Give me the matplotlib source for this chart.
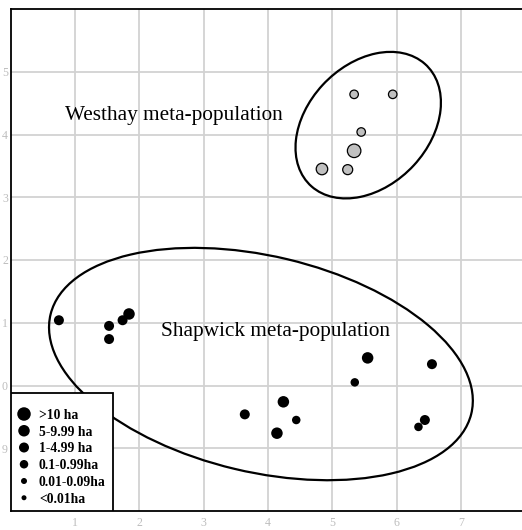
import matplotlib
matplotlib.use("Agg")
import matplotlib.pyplot as plt
from matplotlib.patches import Ellipse, Rectangle

# Patch-size classes (habitat area)
size_classes = [">10 ha", "5-9.99 ha", "1-4.99 ha", "0.1-0.99ha", "0.01-0.09ha", "<0.01ha"]

# Shapwick sites: ordination scores and size class index
shap_x = [0.75, 1.53, 1.53, 1.74, 1.84, 3.64, 4.24, 4.44, 4.14, 5.55, 6.55, 5.35, 6.44, 6.34]
shap_y = [1.04, 0.95, 0.74, 1.04, 1.14, -0.46, -0.26, -0.55, -0.76, 0.44, 0.34, 0.05, -0.55, -0.66]
shap_cls = [2, 2, 2, 2, 1, 2, 1, 3, 1, 1, 2, 3, 2, 3]

# Westhay sites
west_x = [5.34, 5.94, 5.45, 5.34, 4.84, 5.24]
west_y = [4.64, 4.64, 4.04, 3.74, 3.45, 3.44]
west_cls = [3, 3, 3, 0, 1, 2]

x_ticks = [1, 2, 3, 4, 5, 6, 7]
y_ticks = [-1, 0, 1, 2, 3, 4, 5]
y_tick_labels = ["9", "0", "1", "2", "3", "4", "5"]

# marker diameters (pixels) per size class
class_diam_px = [13.5, 11.5, 10.0, 8.5, 6.0, 5.0]
DPI = 100
W_PX, H_PX = 522, 530
px2pt = 72.0 / DPI


def area(cls_list):
    return [(class_diam_px[c] * px2pt) ** 2 for c in cls_list]


fig = plt.figure(figsize=(W_PX / DPI, H_PX / DPI), dpi=DPI)
ax_left_px, ax_top_px, ax_bottom_px = 10.67, 9.0, 511.0
ax_w_px = W_PX - ax_left_px
ax_h_px = ax_bottom_px - ax_top_px
ax = fig.add_axes([ax_left_px / W_PX, (H_PX - ax_bottom_px) / H_PX,
                   ax_w_px / W_PX, ax_h_px / H_PX])
ax.set_xlim(0, 7.95)
ax.set_ylim(-2, 6)

ax.set_xticks(x_ticks)
ax.set_xticklabels([str(v) for v in x_ticks])
ax.set_yticks(y_ticks)
ax.set_yticklabels(y_tick_labels)
ax.tick_params(length=0, colors="#bdbdbd", labelsize=8.6)
ax.tick_params(axis="x", pad=4)
ax.tick_params(axis="y", pad=2)
for lab in ax.get_xticklabels() + ax.get_yticklabels():
    lab.set_family("Liberation Serif")

ax.grid(True, color="#d2d2d2", linewidth=1.3)
ax.set_axisbelow(True)
for side in ["left", "top", "bottom"]:
    ax.spines[side].set_color("black")
    ax.spines[side].set_linewidth(1.3)
ax.spines["right"].set_visible(False)

# group envelopes
ax.add_patch(Ellipse((5.559, 4.149), 2.63, 1.91, angle=48, fill=False,
                     edgecolor="black", linewidth=1.6, zorder=3))
ax.add_patch(Ellipse((3.891, 0.342), 6.73, 3.44, angle=-13.7, fill=False,
                     edgecolor="black", linewidth=1.6, zorder=3))

ax.scatter(shap_x, shap_y, s=area(shap_cls), c="black", edgecolors="none", zorder=4)
ax.scatter(west_x, west_y, s=area(west_cls), c="#c0c0c0", edgecolors="black",
           linewidths=0.9, zorder=4)

ax.text(0.845, 4.226, "Westhay meta-population", family="Liberation Serif",
        fontsize=15.3, va="baseline", ha="left", zorder=5)
ax.text(2.332, 0.788, "Shapwick meta-population", family="Liberation Serif",
        fontsize=15.3, va="baseline", ha="left", zorder=5)


# size-class key in the lower-left corner (axes-fraction coordinates)
def ax_x(px):
    return (px - ax_left_px) / ax_w_px


def ax_y(py):
    return (ax_bottom_px - py) / ax_h_px


key_right_px, key_top_px = 113.3, 393.3
ax.add_patch(Rectangle((0, 0), ax_x(key_right_px), ax_y(key_top_px),
                       transform=ax.transAxes, facecolor="white",
                       edgecolor="black", linewidth=1.3, zorder=6))
row0_px, row_step_px = 414.0, 16.75
for i, (lab, d) in enumerate(zip(size_classes, class_diam_px)):
    ry = row0_px + i * row_step_px
    ax.scatter([ax_x(24.0)], [ax_y(ry)], s=(d * px2pt) ** 2, c="black",
               edgecolors="none", transform=ax.transAxes, zorder=7, clip_on=False)
    ax.text(ax_x(39.0), ax_y(ry + 5.0), lab, transform=ax.transAxes,
            family="Liberation Serif", weight="bold", fontsize=9.8,
            va="baseline", ha="left", zorder=7)

fig.savefig("out.png", dpi=DPI)
